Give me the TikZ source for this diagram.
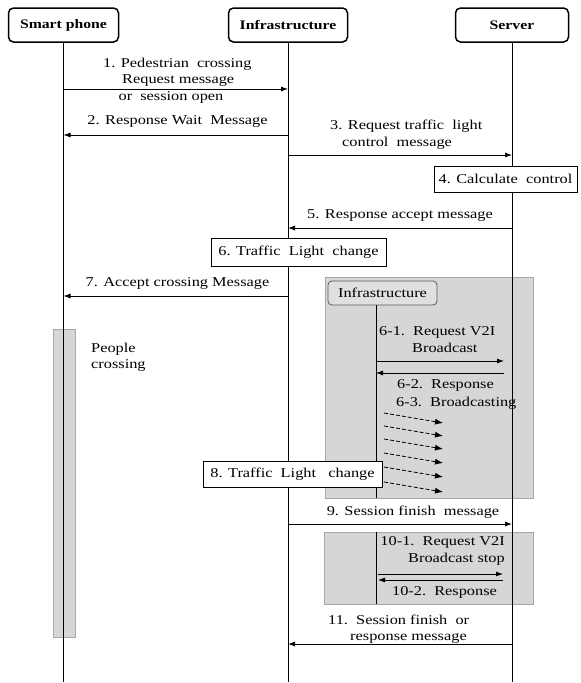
\documentclass[tikz,border=0pt]{standalone}
\usepackage{fontspec}
\setmainfont{Liberation Serif}[FakeStretch=1.21]
\usepackage{xcolor}
\usepackage{tikz}
\usetikzlibrary{arrows.meta}
\definecolor{zonegray}{HTML}{D6D6D6}
\definecolor{zoneedge}{HTML}{A8A8A8}
\definecolor{subgray}{HTML}{E0E0E0}
\definecolor{subedge}{HTML}{5A5A5A}

\begin{document}
\begin{tikzpicture}[x=1pt,y=-1pt,
  font=\fontsize{13.5}{16.5}\selectfont,
  actor/.style={draw,line width=1.5pt,rounded corners=5pt,minimum height=34pt,font=\fontsize{13}{16}\selectfont\bfseries},
  life/.style={line width=0.8pt},
  msg/.style={line width=0.8pt,-{Latex[length=7pt,width=5pt]}},
  bcast/.style={line width=0.8pt,dash pattern=on 4pt off 2pt,-{Latex[length=8pt,width=6pt]}},
  note/.style={draw,fill=white,line width=0.7pt,inner sep=0pt},
  txt/.style={inner sep=0pt},
  zone/.style={fill=zonegray,draw=zoneedge,line width=0.6pt}]
\useasboundingbox (0,0) rectangle (581,683);

% actors
\node[actor,minimum width=110pt] (phone) at (63.5,25) {Smart phone};
\node[actor,minimum width=119pt] (infra) at (288,25) {Infrastructure};
\node[actor,minimum width=113pt] (server) at (512,25) {Server};

% grey zones behind the lifelines
\fill[zone] (325,277) rectangle (533,498);
\fill[zone] (324,532) rectangle (533,604);
\node[zone,minimum width=22pt,minimum height=308pt,inner sep=0pt] (walk) at (64,483) {};

% row levels
\coordinate (bottom) at (0,682);
\foreach \n/\y in {r1/89,r2/135,r3/155,r5/228,r7/296,r61/361,r62/373,
                   zend/498,zstart/532,r9/524,r101/574,r102/580,subend/604,r11/644}
  \coordinate (\n) at (0,\y);

% lifelines
\draw[life] (phone) -- (phone |- bottom);
\draw[life] (infra) -- (infra |- bottom);
\draw[life] (server) -- (server |- bottom);

% infrastructure inside the zone
\node[draw=subedge,fill=subgray,rounded corners=4pt,line width=0.8pt,
      minimum width=109pt,minimum height=24pt,inner sep=0pt] (subinfra) at (382.5,293) {Infrastructure};
\coordinate (sub) at (376,305);
\draw[life] (sub) -- (sub |- zend);
\draw[life] (sub |- zstart) -- (sub |- subend);

% messages
\draw[msg] (phone |- r1) -- (infra |- r1);
\node[txt,align=left,anchor=west] (l1) at (103,72.5) {1. Pedestrian\ \ crossing\\\hspace*{19pt}Request message};
\node[txt] (l1b) at (171,97) {or\ \ session open};

\draw[msg] (infra |- r2) -- (phone |- r2);
\node[txt] (l2) at (177.5,121) {2. Response Wait\ \ Message};

\draw[msg] (infra |- r3) -- (server |- r3);
\node[txt,align=left,anchor=west] (l3) at (330,134.5) {3. Request traffic\ \ light\\\hspace*{12pt}control\ \ message};

\node[note,minimum width=143pt,minimum height=26pt] (calc) at (505.5,179) {4. Calculate\ \ control};

\draw[msg] (server |- r5) -- (infra |- r5);
\node[txt] (l5) at (400,216) {5. Response accept message};

\node[note,minimum width=175pt,minimum height=28pt] (change1) at (298.5,252) {6. Traffic\ \ Light\ \ change};

\draw[msg] (infra |- r7) -- (phone |- r7);
\node[txt] (l7) at (177.5,283) {7. Accept crossing Message};

\node[txt,align=left,anchor=west] (people) at (91,357.5) {People\\crossing};

% V2I broadcast
\node[txt,align=left,anchor=west] (l61) at (379,339.5) {6-1.\ \ Request V2I\\\hspace*{33pt}Broadcast};
\draw[msg,shorten >=8pt] (sub |- r61) -- (server |- r61);
\draw[msg,shorten <=8pt] (server |- r62) -- (sub |- r62);
\node[txt,anchor=west] (l62) at (397,385) {6-2.\ \ Response};
\node[txt,anchor=west] (l63) at (396,403) {6-3.\ \ Broadcasting};
\foreach \y [count=\i] in {413,426,439,453,467,482}
{
    \coordinate (bs\i) at (384,\y);
    \coordinate (be\i) at (443,\y+10);
    \draw[bcast] (bs\i) -- (be\i);
}

\node[note,minimum width=179pt,minimum height=26pt] (change2) at (292.5,474) {8. Traffic\ \ Light\ \ \ change};

\draw[msg] (infra |- r9) -- (server |- r9);
\node[txt] (l9) at (413,512) {9. Session finish\ \ message};

\node[txt,align=right,anchor=east] (l101) at (505,551) {10-1.\ \ Request V2I\\Broadcast stop};
\draw[msg,shorten <=2pt,shorten >=9pt] (sub |- r101) -- (server |- r101);
\draw[msg,shorten <=9pt,shorten >=2pt] (server |- r102) -- (sub |- r102);
\node[txt] (l102) at (444.5,592) {10-2.\ \ Response};

\draw[msg] (server |- r11) -- (infra |- r11);
\node[txt,align=left,anchor=west] (l11) at (328,629) {11.\ \ Session finish\ \ or\\\hspace*{22pt}response message};
\end{tikzpicture}
\end{document}
